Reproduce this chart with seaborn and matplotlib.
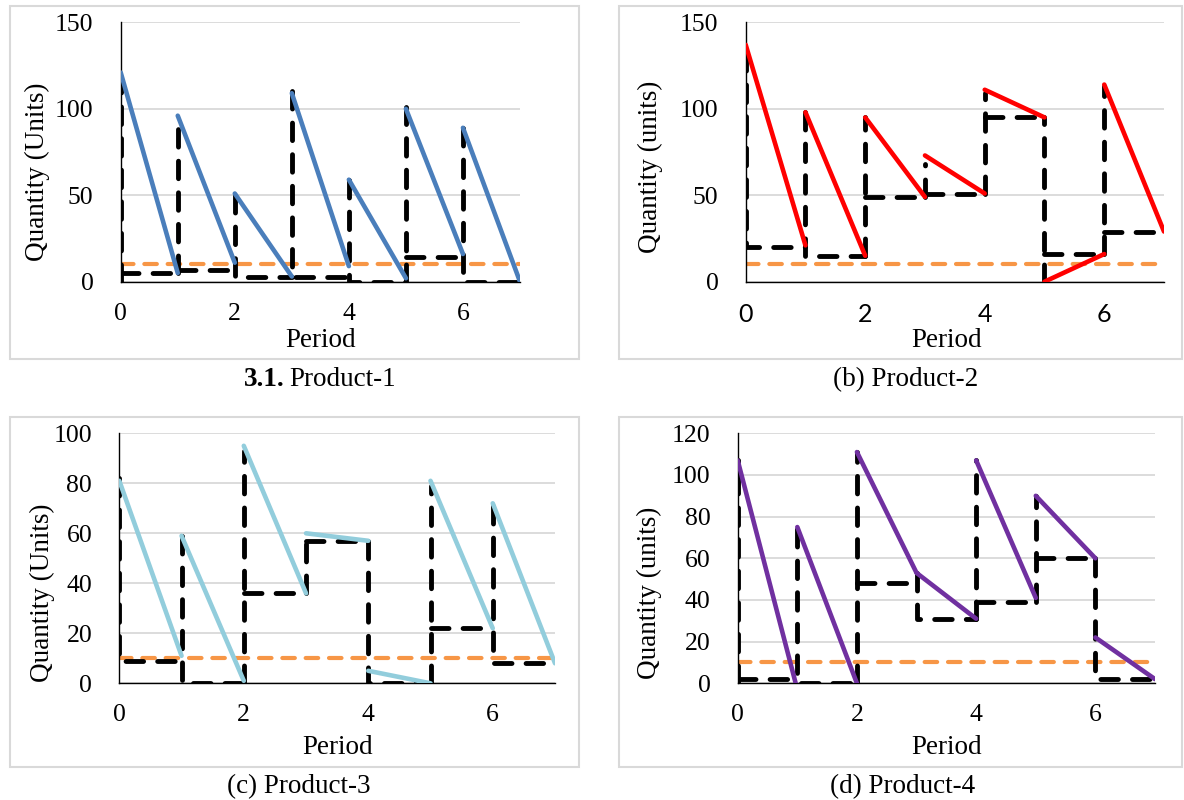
import matplotlib
matplotlib.use("Agg")
import matplotlib.pyplot as plt
import seaborn as sns
import pandas as pd
from matplotlib.patches import Rectangle

# ---------------- data ----------------
n_periods = 7
reorder_level = 10
x_ticks = [0, 2, 4, 6]

# Product-1
p1_peak = [121, 96, 51, 109, 59, 100, 89]        # inventory after replenishment
p1_end = [5, 11, 3, 9, 2, 16, 0]                 # inventory at end of period
p1_order_start = 0
p1_order_top = [117, 92, 50, 110, 59, 101, 89]
p1_order_level = [5, 7, 3, 3, 0, 14, 0]
p1_yticks = [0, 50, 100, 150]

# Product-2
p2_peak = [137, 98, 95, 73, 111, 0, 114]
p2_end = [21, 15, 49, 51, 95, 16, 29]
p2_order_start = 20
p2_order_top = [132, 98, 95, 68, 109, 0, 113]
p2_order_level = [20, 15, 49, 51, 95, 16, 29]
p2_yticks = [0, 50, 100, 150]

# Product-3
p3_peak = [81, 59, 95, 60, 5, 81, 72]
p3_end = [11, 1, 36, 57, 0, 22, 8]
p3_order_start = 9
p3_order_top = [82, 59, 93, 60, 57, 79, 71]
p3_order_level = [9, 0, 36, 57, 0, 22, 8]
p3_yticks = [0, 20, 40, 60, 80, 100]

# Product-4
p4_peak = [107, 75, 111, 53, 107, 90, 22]
p4_end = [-3, 0, 53, 31, 41, 60, 2]
p4_order_start = 0
p4_order_top = [107, 74, 111, 53, 107, 90, 60]
p4_order_level = [2, 0, 48, 31, 39, 60, 2]
p4_yticks = [0, 20, 40, 60, 80, 100, 120]

W, H = 1184, 800

sns.set_theme(style="white")
plt.rcParams["font.family"] = ["Liberation Serif", "DejaVu Serif"]

fig = plt.figure(figsize=(W / 100, H / 100), dpi=100)


def inv_frame(peak, end):
    rows = []
    for t in range(len(peak)):
        rows.append({"x": t, "y": peak[t], "seg": t})
        rows.append({"x": t + 1, "y": end[t], "seg": t})
    return pd.DataFrame(rows)


def order_frame(start, top, level):
    rows = []
    prev = start
    for t in range(len(top)):
        lo = min(prev, top[t], level[t])
        hi = max(prev, top[t], level[t])
        s = 2 * t
        if level[t] == lo:
            pts = [(t, hi, s), (t, lo, s), (t + 1, lo, s)]
        elif level[t] == hi:
            pts = [(t, lo, s), (t, hi, s), (t + 1, hi, s)]
        else:
            pts = [(t, lo, s), (t, hi, s),
                   (t, level[t], s + 1), (t + 1, level[t], s + 1)]
        rows += [{"x": a, "y": b, "seg": c} for a, b, c in pts]
        prev = level[t]
    return pd.DataFrame(rows)


def px_rect(x0, y0, x1, y1):
    return [x0 / W, 1 - y1 / H, (x1 - x0) / W, (y1 - y0) / H]


panels = [
    dict(peak=p1_peak, end=p1_end, start=p1_order_start, top=p1_order_top,
         level=p1_order_level, yticks=p1_yticks, color="#4a7ebb",
         ax=(120.7, 22.3, 520, 281.7), box=(9.6, 5.5, 579, 359),
         ylabel="Quantity (Units)", ylab_x=50, ylab_y=172, sans_x=False,
         xlab=(0.5, 340)),
    dict(peak=p2_peak, end=p2_end, start=p2_order_start, top=p2_order_top,
         level=p2_order_level, yticks=p2_yticks, color="#ff0000",
         ax=(745.7, 22.3, 1164, 281.7), box=(618.5, 5.5, 1182, 359),
         ylabel="Quantity (units)", ylab_x=663, ylab_y=167, sans_x=True,
         xlab=(0.48, 340)),
    dict(peak=p3_peak, end=p3_end, start=p3_order_start, top=p3_order_top,
         level=p3_order_level, yticks=p3_yticks, color="#92cddc",
         ax=(119.3, 433.3, 555, 683.3), box=(9.6, 416.5, 579, 767),
         ylabel="Quantity (Units)", ylab_x=55, ylab_y=593, sans_x=False,
         xlab=(0.5, 747)),
    dict(peak=p4_peak, end=p4_end, start=p4_order_start, top=p4_order_top,
         level=p4_order_level, yticks=p4_yticks, color="#7030a0",
         ax=(737.7, 433.3, 1155, 683.3), box=(618.5, 416.5, 1182, 767),
         ylabel="Quantity (units)", ylab_x=662, ylab_y=593, sans_x=False,
         xlab=(0.5, 747)),
]

for p in panels:
    x0, y0, x1, y1 = p["ax"]
    ax = fig.add_axes(px_rect(x0, y0, x1, y1))
    bx0, by0, bx1, by1 = p["box"]
    fig.add_artist(Rectangle((bx0 / W, 1 - by1 / H), (bx1 - bx0) / W, (by1 - by0) / H,
                             transform=fig.transFigure, fill=False,
                             edgecolor="#d9d9d9", linewidth=1.5, zorder=0))

    # reorder level (orange dashed)
    sns.lineplot(x=[0, n_periods], y=[reorder_level, reorder_level], ax=ax,
                 color="#f79646", linewidth=3.0, linestyle=(0, (3.0, 2.6)),
                 dash_capstyle="round", zorder=2)
    # order / position (black dashed)
    od = order_frame(p["start"], p["top"], p["level"])
    sns.lineplot(data=od, x="x", y="y", units="seg", ax=ax, estimator=None,
                 sort=False, color="black", linewidth=3.5,
                 linestyle=(0, (3.6, 2.9)), dash_capstyle="round", zorder=3)
    # inventory (coloured sawtooth)
    inv = inv_frame(p["peak"], p["end"])
    sns.lineplot(data=inv, x="x", y="y", units="seg", ax=ax, estimator=None,
                 sort=False, color=p["color"], linewidth=3.3,
                 solid_capstyle="round", zorder=4)

    ax.set_xlim(0, n_periods)
    ax.set_ylim(p["yticks"][0], p["yticks"][-1])
    ax.set_xticks(x_ticks)
    ax.set_yticks(p["yticks"])
    ax.grid(axis="y", color="#d9d9d9", linewidth=1.3)
    ax.grid(axis="x", visible=False)
    ax.set_axisbelow(True)
    for s in ["top", "right"]:
        ax.spines[s].set_visible(False)
    for s in ["left", "bottom"]:
        ax.spines[s].set_color("black")
        ax.spines[s].set_linewidth(1.0)
    ax.tick_params(axis="y", length=0, labelsize=18.5, pad=19.5, colors="black")
    ax.tick_params(axis="x", length=0, labelsize=18.5, pad=15, colors="black")
    if p["sans_x"]:
        for lab in ax.get_xticklabels():
            lab.set_fontfamily(["Lato", "DejaVu Sans"])
            lab.set_fontsize(18)

    ax.set_xlabel("Period", fontsize=19.5, color="black")
    ax.xaxis.set_label_coords(p["xlab"][0], -(p["xlab"][1] - y1) / (y1 - y0))
    ax.xaxis.label.set_verticalalignment("center")
    ax.set_ylabel(p["ylabel"], fontsize=19.5, color="black")
    ax.yaxis.set_label_coords((p["ylab_x"] - x0) / (x1 - x0),
                              (y1 - p["ylab_y"]) / (y1 - y0))
    ax.yaxis.label.set_verticalalignment("bottom")
    ax.set_facecolor("none")

# captions
fig.text(285 / W, 1 - 380 / H, "3.1.", fontsize=19.5, fontweight="bold",
         ha="right", va="center", color="black")
fig.text(289 / W, 1 - 380 / H, "Product-1", fontsize=19.5,
         ha="left", va="center", color="black")
fig.text(906 / W, 1 - 380 / H, "(b) Product-2", fontsize=19.5,
         ha="center", va="center", color="black")
fig.text(299 / W, 1 - 787 / H, "(c) Product-3", fontsize=19.5,
         ha="center", va="center", color="black")
fig.text(903 / W, 1 - 787 / H, "(d) Product-4", fontsize=19.5,
         ha="center", va="center", color="black")

fig.savefig("out.png", dpi=100, facecolor="white")
